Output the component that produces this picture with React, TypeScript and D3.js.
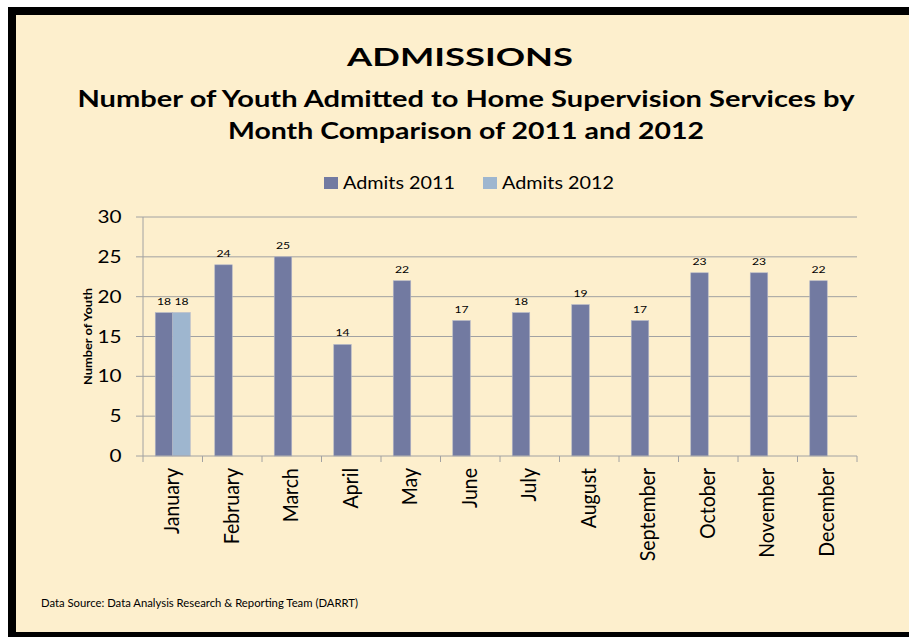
import React from "react";
import * as d3 from "d3";

const months = ["January","February","March","April","May","June","July","August","September","October","November","December"];
const admits2011 = [18,24,25,14,22,17,18,19,17,23,23,22];
const admits2012: (number|null)[] = [18,null,null,null,null,null,null,null,null,null,null,null];
const yTicks = [0,5,10,15,20,25,30];
const seriesNames = ["Admits 2011","Admits 2012"];
const colors = ["#727AA1","#9EB6CF"];

const FONT = "Lato, 'Open Sans', sans-serif";
const SX = 1.22; // horizontal stretch of the original picture

export default function App() {
  const W = 909, H = 637;
  const left = 143, right = 857, top = 217, bottom = 456;
  const x = d3.scaleBand<string>().domain(months).range([left, right]).paddingInner(0).paddingOuter(0);
  const y = d3.scaleLinear().domain([0, 30]).range([bottom, top]);
  const pad = 12.25;
  const bw = (x.bandwidth() - 2 * pad) / 2;
  const series = [admits2011, admits2012];
  const grid = "#A2A2A2";

  return (
    <svg width={W} height={H} style={{ position: "absolute", left: 0, top: 0, display: "block" }}>
      <rect x={0} y={0} width={W} height={H} fill="#fff" />
      <rect x={8} y={7} width={W - 8} height={H - 7} fill="#000" />
      <rect x={16} y={15} width={W - 16} height={617} fill="#FDEFCD" />
      <text x={460} y={66} textAnchor="middle" fontFamily={FONT} fontWeight="bold" fontSize={25} textLength={226} lengthAdjust="spacingAndGlyphs">ADMISSIONS</text>
      <text x={466} y={107} textAnchor="middle" fontFamily={FONT} fontWeight="bold" fontSize={23} textLength={777} lengthAdjust="spacingAndGlyphs">Number of Youth Admitted to Home Supervision Services by</text>
      <text x={466} y={139} textAnchor="middle" fontFamily={FONT} fontWeight="bold" fontSize={23} textLength={476} lengthAdjust="spacingAndGlyphs">Month Comparison of 2011 and 2012</text>
      {/* legend */}
      {seriesNames.map((s, i) => {
        const lx = [324, 483][i];
        return (
          <g key={s}>
            <rect x={lx} y={177} width={14} height={12} fill={colors[i]} />
            <text x={lx + 19} y={189} fontFamily={FONT} fontSize={17} textLength={112} lengthAdjust="spacingAndGlyphs">{s}</text>
          </g>
        );
      })}
      {/* gridlines */}
      {yTicks.map(t => (
        <g key={t}>
          <line x1={left - 7} x2={t > 0 ? right : left} y1={y(t)} y2={y(t)} stroke={grid} strokeWidth={1} />
          <text transform={`translate(121.5,${y(t) + 6}) scale(${SX},1)`} textAnchor="end" fontFamily={FONT} fontSize={17}>{t}</text>
        </g>
      ))}
      {/* bars */}
      {series.map((vals, si) => vals.map((v, i) => {
        if (v == null) return null;
        const bx = (x(months[i]) as number) + pad + si * bw;
        return (
          <g key={`${si}-${i}`}>
            <rect x={bx} y={y(v)} width={bw} height={bottom - y(v)} fill={colors[si]} stroke="#B4B8C8" strokeWidth={0.6} />
            <text transform={`translate(${bx + bw / 2},${y(v) - 8}) scale(${SX},1)`} textAnchor="middle" fontFamily={FONT} fontSize={10}>{v}</text>
          </g>
        );
      }))}
      {/* axes */}
      <line x1={left} x2={left} y1={top} y2={bottom} stroke={grid} />
      <line x1={left} x2={right} y1={bottom} y2={bottom} stroke={grid} />
      {months.map(m => (
        <line key={m} x1={x(m) as number} x2={x(m) as number} y1={bottom} y2={bottom + 6} stroke={grid} />
      ))}
      <line x1={right} x2={right} y1={bottom} y2={bottom + 6} stroke={grid} />
      {months.map(m => {
        const cx = (x(m) as number) + x.bandwidth() / 2;
        return (
          <text key={m} transform={`translate(${cx + 6.5},${468}) rotate(-90) scale(1,1.12)`} textAnchor="end" fontFamily={FONT} fontSize={19.5}>{m}</text>
        );
      })}
      <text transform={`translate(92,336.5) rotate(-90)`} textAnchor="middle" fontFamily={FONT} fontWeight="bold" fontSize={12} textLength={97} lengthAdjust="spacingAndGlyphs">Number of Youth</text>
      <text x={41} y={607} fontFamily={FONT} fontSize={10.5} textLength={317} lengthAdjust="spacingAndGlyphs">Data Source: Data Analysis Research &amp; Reporting Team (DARRT)</text>
    </svg>
  );
}
